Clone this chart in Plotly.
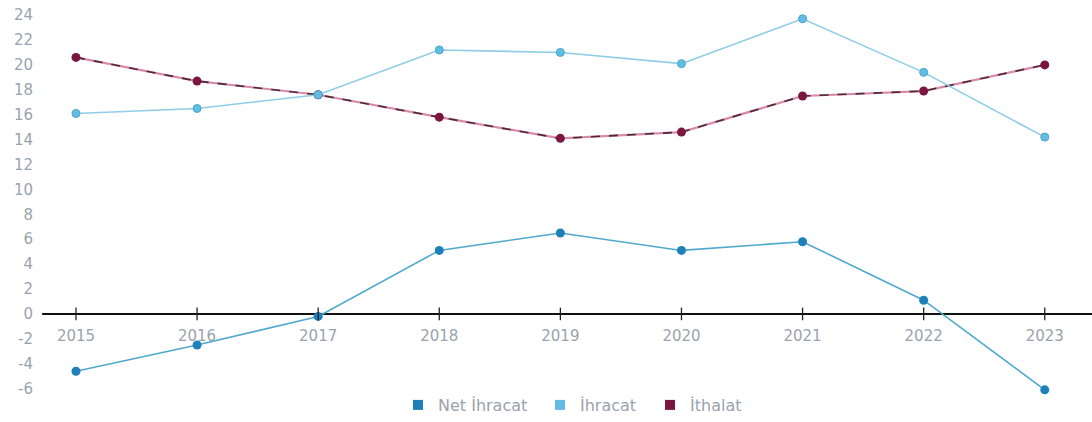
import plotly.graph_objects as go

years = [2015, 2016, 2017, 2018, 2019, 2020, 2021, 2022, 2023]
net_ihracat = [-4.6, -2.5, -0.2, 5.1, 6.5, 5.1, 5.8, 1.1, -6.1]
ihracat = [16.1, 16.5, 17.6, 21.2, 21.0, 20.1, 23.7, 19.4, 14.2]
ithalat = [20.6, 18.7, 17.6, 15.8, 14.1, 14.6, 17.5, 17.9, 20.0]
y_ticks = list(range(-6, 25, 2))

NET_BLUE = "#1f7fb8"
NET_LINE = "#4fa9cc"
LIGHT_BLUE = "#62bde2"
MAROON = "#7a1640"
PINK = "#d98aa8"
GRAY = "#9aa3ad"

fig = go.Figure()

# Imports: soft pink base with a dark dashed stroke on top
fig.add_trace(go.Scatter(
    x=years, y=ithalat, mode="lines", showlegend=False, hoverinfo="skip",
    line=dict(color=PINK, width=2.2),
))
fig.add_trace(go.Scatter(
    x=years, y=ithalat, mode="lines+markers", showlegend=False,
    line=dict(color="#4a2a36", width=1.6, dash="dash"),
    marker=dict(color=MAROON, size=9, symbol="circle"),
))

fig.add_trace(go.Scatter(
    x=years, y=ihracat, mode="lines+markers", showlegend=False,
    line=dict(color="#8fcde6", width=1.6),
    marker=dict(color=LIGHT_BLUE, size=8, line=dict(color="#4aa6cf", width=1)),
))

fig.add_trace(go.Scatter(
    x=years, y=net_ihracat, mode="lines+markers", showlegend=False,
    line=dict(color=NET_LINE, width=1.6),
    marker=dict(color=NET_BLUE, size=9),
))

# Legend entries shown as square swatches, each in its own legend box
legend_items = [("Net İhracat", NET_BLUE, "legend", 398),
                ("İhracat", LIGHT_BLUE, "legend2", 540),
                ("İthalat", MAROON, "legend3", 650)]
for name, color, lg, _ in legend_items:
    fig.add_trace(go.Scatter(
        x=[None], y=[None], mode="markers", name=name, legend=lg,
        marker=dict(symbol="square", size=10, color=color),
    ))

# Zero baseline with year ticks and labels drawn just beneath it
fig.add_shape(type="line", xref="paper", yref="y", x0=0.002, x1=1, y0=0, y1=0,
              line=dict(color="#111111", width=2), layer="below")
fig.add_trace(go.Scatter(
    x=years, y=[0] * len(years), mode="markers", showlegend=False, hoverinfo="skip",
    marker=dict(symbol="line-ns", size=9, line=dict(color="#222222", width=1.3)),
))
fig.add_trace(go.Scatter(
    x=years, y=[-1.9] * len(years), mode="text", showlegend=False, hoverinfo="skip",
    text=[str(y) for y in years], textfont=dict(color=GRAY, size=15, family="DejaVu Sans"),
))

PLOT_L, PLOT_W = 40, 1052
legend_layout = {}
for _, _, lg, px in legend_items:
    legend_layout[lg] = dict(orientation="h", x=(px - PLOT_L) / PLOT_W, xanchor="left",
                             y=0.0, yanchor="bottom", font=dict(size=16, color=GRAY),
                             itemwidth=30, bgcolor="rgba(0,0,0,0)")

fig.update_layout(
    width=1092, height=422,
    margin=dict(l=PLOT_L, r=0, t=3, b=0),
    paper_bgcolor="white", plot_bgcolor="white",
    font=dict(family="DejaVu Sans", color=GRAY),
    showlegend=True,
    xaxis=dict(range=[2014.703, 2023.39], showgrid=False, zeroline=False,
               showticklabels=False, showline=False),
    yaxis=dict(range=[-8.68, 24.97], tickvals=y_ticks, ticktext=[str(v) for v in y_ticks],
               showgrid=False, zeroline=False, showline=False,
               tickfont=dict(size=15, color=GRAY), ticklabelstandoff=6),
    **legend_layout,
)

fig.write_html("out.html")
